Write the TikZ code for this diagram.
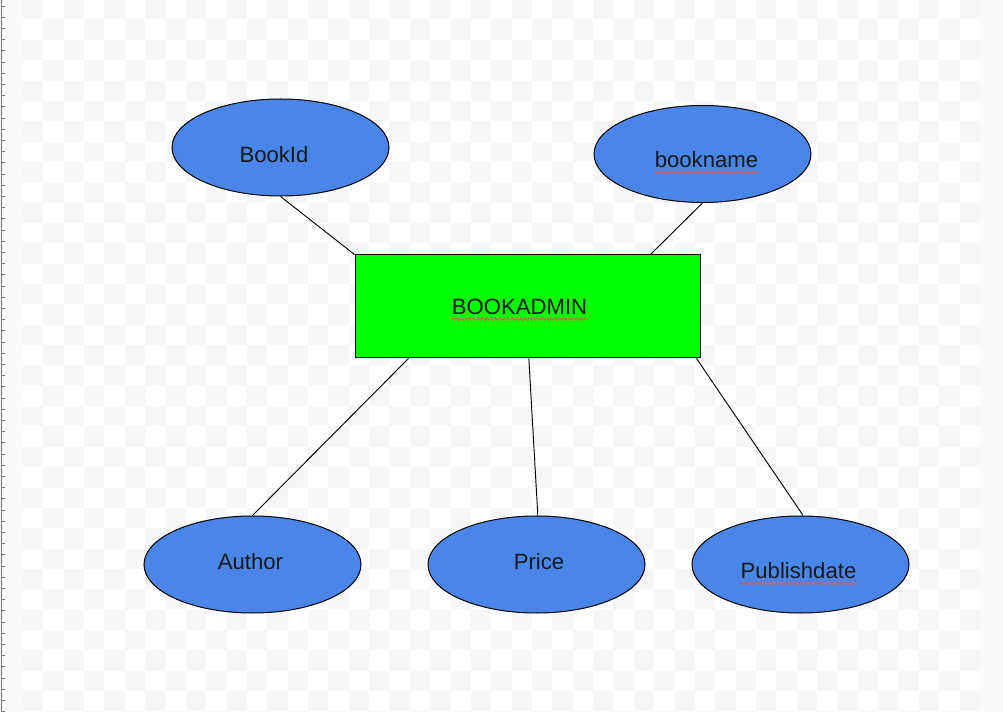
\documentclass[tikz,border=0pt]{standalone}
\usepackage{fontspec}
\setmainfont{Liberation Sans}
\usepackage{xcolor}
\usepackage{tikz}
\usetikzlibrary{shapes.geometric, decorations.pathmorphing}
\definecolor{attrblue}{HTML}{4A86E8}
\definecolor{entgreen}{HTML}{00FF00}
\definecolor{checkgrey}{HTML}{F6F6F6}
\definecolor{sidestrip}{HTML}{F8FAFC}
\definecolor{spellred}{HTML}{E05A5A}

\begin{document}
\begin{tikzpicture}[x=0.75pt, y=-0.75pt,
				attr/.style={ellipse, draw=black, line width=0.75pt, fill=attrblue, minimum width=162.75pt, minimum height=72.75pt, inner sep=0pt},
				entity/.style={rectangle, draw=black, line width=0.75pt, fill=entgreen, minimum width=258.75pt, minimum height=77.25pt, inner sep=0pt},
				txt/.style={inner sep=0pt, text=black!90, font=\fontsize{16.6}{19}\selectfont},
				link/.style={draw=black, line width=0.7pt},
				wavy/.style={draw=spellred, line width=0.75pt, decorate, decoration={zigzag, amplitude=0.9pt, segment length=3.2pt}}]
				% background
				\useasboundingbox (0,0) rectangle (1003,712);
				\fill[white] (0,0) rectangle (1003,712);
				\fill[sidestrip] (0,0) rectangle (23,712);
				\fill[sidestrip] (980,0) rectangle (1003,712);
				\foreach \c in {0,...,46}
					\foreach \r in {0,...,35}
					{
						\pgfmathtruncatemacro{\parity}{mod(\c+\r,2)}
						\ifnum\parity=0
							\fill[checkgrey] ({23+\c*20.36},{-0.85+\r*20.35}) rectangle ({23+(\c+1)*20.36},{-0.85+(\r+1)*20.35});
						\fi
					}
				\draw[black!55, line width=0.9pt] (1.5,0) -- (1.5,712);
				\foreach \t in {0,...,63}
					\draw[black!55, line width=0.6pt] (1.5,{6+\t*11.2}) -- (4.5,{6+\t*11.2});
				% entity and attributes
				\node at (527.5,306.5) (box) [entity] {};
				\node at (280.5,147.5) (bookid) [attr] {};
				\node at (702.5,154) (bookname) [attr] {};
				\node at (252.5,564.5) (author) [attr] {};
				\node at (536.5,564.5) (price) [attr] {};
				\node at (800.5,564.5) (pubdate) [attr] {};
				% labels
				\node at (519.5,307) (boxtxt) [txt] {BOOKADMIN};
				\node at (274,155) (bookidtxt) [txt] {BookId};
				\node at (706.5,160) (booknametxt) [txt] {bookname};
				\node at (250.5,562) (authortxt) [txt] {Author};
				\node at (539,562) (pricetxt) [txt] {Price};
				\node at (798.5,571) (pubdatetxt) [txt] {Publishdate};
				% spell marks
				\draw[wavy] ([yshift=-3pt]boxtxt.south west) -- ([yshift=-3pt]boxtxt.south east);
				\draw[wavy] ([yshift=-3pt]booknametxt.south west) -- ([yshift=-3pt]booknametxt.south east);
				\draw[wavy] ([yshift=-3pt]pubdatetxt.south west) -- ([yshift=-3pt]pubdatetxt.south east);
				% connectors
				\draw[link] (bookid.south) -- (box.north west);
				\draw[link] (bookname.south) -- ([xshift=-37.5pt]box.north east);
				\draw[link] ([xshift=40.5pt]box.south west) -- (author.north);
				\draw[link] ([xshift=1pt]box.south) -- ([xshift=1pt]price.north);
				\draw[link] ([xshift=-3pt]box.south east) -- ([xshift=2pt]pubdate.north);
			\end{tikzpicture}
\end{document}
